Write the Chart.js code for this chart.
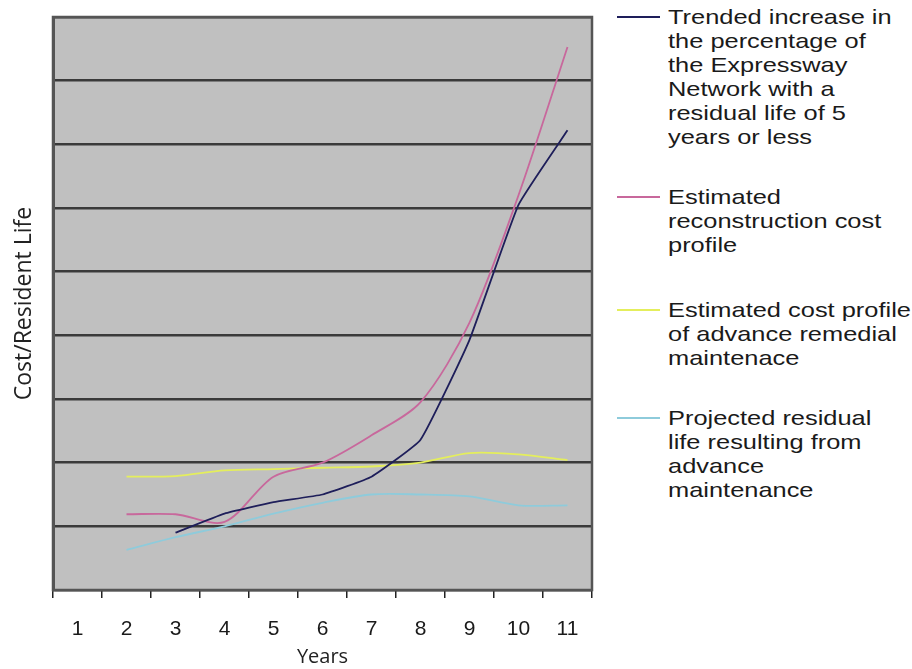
<!DOCTYPE html>
<html>
<head>
<meta charset="utf-8">
<script src="https://cdn.jsdelivr.net/npm/chart.js@4"></script>
<style>
  html, body { margin: 0; padding: 0; background: #fff; }
  #wrap { position: relative; width: 912px; height: 669px; overflow: hidden; }
  #chartBox { position: absolute; left: 0; top: 0; width: 600px; height: 669px; }
  .leg { position: absolute; left: 617px; }
  .leg .swatch { position: absolute; left: 0; width: 43px; height: 2px; }
  .leg .txt {
    position: absolute; left: 51px; top: 0; white-space: nowrap;
    font-family: "Liberation Sans", Arial, sans-serif; font-size: 21px; line-height: 24px;
    color: #1a1a1a; transform: scaleX(1.21); transform-origin: 0 0;
  }
</style>
</head>
<body>
<div id="wrap">
  <div id="chartBox"><canvas id="c"></canvas></div>
  <div id="legend"></div>
</div>
<script>
// categories (years)
const years = ['1', '2', '3', '4', '5', '6', '7', '8', '9', '10', '11'];

// series values (no axis numbers in the original, gridlines = 1 unit)
const trendedIncrease = [null, null, 0.9, 1.2, 1.38, 1.5, 1.78, 2.36, 3.93, 6.05, 7.22];
const reconstructionCost = [null, 1.19, 1.19, 1.07, 1.78, 2.0, 2.43, 2.95, 4.2, 6.2, 8.53];
const remedialCost = [null, 1.78, 1.79, 1.88, 1.9, 1.92, 1.94, 2.0, 2.15, 2.13, 2.04];
const residualLife = [null, 0.63, 0.83, 1.0, 1.2, 1.37, 1.5, 1.5, 1.47, 1.33, 1.33];

const seriesLabels = [
  ['Trended increase in', 'the percentage of', 'the Expressway', 'Network with a', 'residual life of 5', 'years or less'],
  ['Estimated', 'reconstruction cost', 'profile'],
  ['Estimated cost profile', 'of advance remedial', 'maintenace'],
  ['Projected residual', 'life resulting from', 'advance', 'maintenance']
];
const colors = ['#1e1e5a', '#c8689c', '#e4ee5c', '#8ecbdb'];
const tensions = [0.12, 0.3, 0.3, 0.3];
const legendTops = [5, 185, 298, 406];

const plotBg = {
  id: 'plotBg',
  beforeDraw(chart) {
    const { ctx, chartArea: a } = chart;
    ctx.save();
    ctx.fillStyle = '#c0c0c0';
    ctx.fillRect(a.left, a.top, a.right - a.left, a.bottom - a.top);
    ctx.restore();
  },
  afterDatasetsDraw(chart) {
    const { ctx, chartArea: a } = chart;
    ctx.save();
    ctx.strokeStyle = '#555';
    ctx.lineWidth = 2.5;
    ctx.strokeRect(a.left, a.top, a.right - a.left, a.bottom - a.top);
    ctx.restore();
  }
};

const mk = (data, i) => ({
  data,
  borderColor: colors[i],
  borderWidth: 1.8,
  pointRadius: 0,
  fill: false,
  tension: tensions[i]
});

new Chart(document.getElementById('c'), {
  type: 'line',
  data: {
    labels: years,
    datasets: [mk(trendedIncrease, 0), mk(reconstructionCost, 1), mk(remedialCost, 2), mk(residualLife, 3)]
  },
  options: {
    responsive: true,
    maintainAspectRatio: false,
    animation: false,
    layout: { padding: { top: 17, right: 8, left: 0, bottom: 0 } },
    plugins: { legend: { display: false }, tooltip: { enabled: false } },
    scales: {
      x: {
        offset: true,
        grid: { drawOnChartArea: false, offset: true, tickLength: 8, color: '#222', lineWidth: 1.5 },
        border: { display: true, color: '#333', width: 2 },
        ticks: { color: '#1a1a1a', padding: 19, font: { family: '"Liberation Sans", Arial, sans-serif', size: 21 } },
        title: { display: true, text: 'Years', color: '#222', padding: { top: 0, bottom: 0 }, font: { family: '"Open Sans", sans-serif', size: 20 } },
        afterFit: s => { s.height = 79; }
      },
      y: {
        min: 0,
        max: 9,
        ticks: { display: false, stepSize: 1 },
        grid: { color: '#3a3a3a', lineWidth: 2.5, drawTicks: false },
        border: { display: true, color: '#555', width: 3 },
        title: { display: true, text: 'Cost/Resident Life', color: '#222', padding: { top: 11, bottom: 0 }, font: { family: '"Open Sans", sans-serif', size: 23 } },
        afterFit: s => { s.width = 53; }
      }
    }
  },
  plugins: [plotBg]
});

// legend as html text, one entry per series
const legend = document.getElementById('legend');
seriesLabels.forEach((lines, i) => {
  const d = document.createElement('div');
  d.className = 'leg';
  d.style.top = legendTops[i] + 'px';
  d.innerHTML = `<div class="swatch" style="top:11px;background:${colors[i]}"></div>` +
    `<div class="txt">${lines.join('<br>')}</div>`;
  legend.appendChild(d);
});
</script>
</body>
</html>
